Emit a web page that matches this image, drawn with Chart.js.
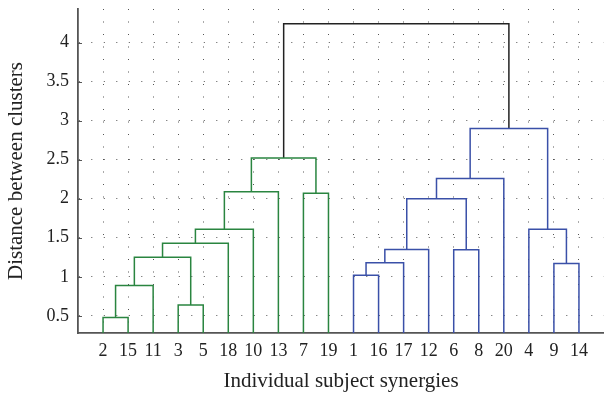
<!DOCTYPE html>
<html><head><meta charset="utf-8">
<script src="https://cdn.jsdelivr.net/npm/chart.js@4"></script>
<style>html,body{margin:0;padding:0;background:#fff}#wrap{width:604px;height:397px;position:relative}</style>
</head><body><div id="wrap"><canvas id="c"></canvas></div>
<script>
// Leaf order along the x axis
const leafLabels = ['2','15','11','3','5','18','10','13','7','19','1','16','17','12','6','8','20','4','9','14'];
// Linkage: merge k creates node 'n' + (k+1)
const mergeLeft   = ['2','n1','3','n2','n4','n5','n6','7','n7','1','n10','n11','6','n12','n14','9','4','n15','n9'];
const mergeRight  = ['15','11','5','n3','18','10','13','19','n8','16','17','12','8','n13','20','14','n16','n17','n18'];
const mergeHeight = [0.48,0.89,0.64,1.25,1.43,1.61,2.09,2.07,2.52,1.02,1.18,1.35,1.345,2.00,2.26,1.17,1.61,2.90,4.24];
const yTicks = [0.5,1,1.5,2,2.5,3,3.5,4];

const clusterColors = ['#2a8540','#3a50a8'];
const aboveColor = '#222222';
const serif = "'Liberation Serif', 'DejaVu Serif', serif";

// positions / heights of nodes
const pos = {}, hgt = {};
leafLabels.forEach((l,i)=>{ pos[l]=i+1; hgt[l]=0; });
mergeHeight.forEach((h,k)=>{
  const id='n'+(k+1);
  pos[id]=(pos[mergeLeft[k]]+pos[mergeRight[k]])/2;
  hgt[id]=h;
});
// colour threshold like MATLAB default (0.7*max)
const thr = 0.7*Math.max(...mergeHeight);
const parent = {};
mergeHeight.forEach((h,k)=>{ parent[mergeLeft[k]]='n'+(k+1); parent[mergeRight[k]]='n'+(k+1); });
const clusterRoots = [];
mergeHeight.forEach((h,k)=>{
  const id='n'+(k+1);
  if(h<thr && (!parent[id] || hgt[parent[id]]>=thr)) clusterRoots.push(id);
});
clusterRoots.sort((a,b)=>pos[a]-pos[b]);
function rootOf(id){ let c=id; while(c && hgt[c]<thr){ if(clusterRoots.includes(c)) return c; c=parent[c]; } return null; }

const datasets = mergeHeight.map((h,k)=>{
  const id='n'+(k+1), L=mergeLeft[k], R=mergeRight[k];
  const r = h<thr ? rootOf(id) : null;
  const col = r ? clusterColors[clusterRoots.indexOf(r)%clusterColors.length] : aboveColor;
  return {
    data:[{x:pos[L],y:hgt[L]},{x:pos[L],y:h},{x:pos[R],y:h},{x:pos[R],y:hgt[R]}],
    borderColor: col, borderWidth: 1.5, showLine: true, pointRadius: 0, tension: 0, fill:false
  };
});

const innerTicks = {
  id:'innerTicks',
  afterDraw(chart){
    const y=chart.scales.y, ctx=chart.ctx, left=chart.chartArea.left;
    ctx.save(); ctx.strokeStyle='#555'; ctx.lineWidth=1;
    yTicks.forEach(v=>{ const p=Math.round(y.getPixelForValue(v))+0.5; ctx.beginPath(); ctx.moveTo(left,p); ctx.lineTo(left+4,p); ctx.stroke(); });
    ctx.restore();
  }
};

new Chart(document.getElementById('c'), {
  type:'scatter',
  data:{datasets},
  plugins:[innerTicks],
  options:{
    responsive:true, maintainAspectRatio:false, animation:false,
    layout:{padding:{top:9,right:0,bottom:0,left:0}},
    plugins:{legend:{display:false}, tooltip:{enabled:false}},
    scales:{
      x:{
        type:'linear', min:0, max:21,
        afterBuildTicks:s=>{ s.ticks = leafLabels.map((_,i)=>({value:i+1})); },
        afterFit:s=>{ s.height=64; },
        ticks:{ callback:v=>leafLabels[v-1]||'', autoSkip:false, maxRotation:0, padding:7, color:'#222', font:{family:serif,size:18} },
        grid:{ color:'#555', lineWidth:1, drawTicks:false },
        border:{ display:true, color:'#555', width:1.8, dash:[1,11.5] },
        title:{ display:true, text:'Individual subject synergies', color:'#222', font:{family:serif,size:21}, padding:{top:0,bottom:3} }
      },
      y:{
        type:'linear', min:0.28, max:4.43,
        afterBuildTicks:s=>{ s.ticks = yTicks.map(v=>({value:v})); },
        afterFit:s=>{ s.width=78; s.paddingTop=9; s.paddingBottom=0; },
        ticks:{ callback:v=>String(v), padding:9, color:'#222', font:{family:serif,size:18} },
        grid:{ color:'#555', lineWidth:1, drawTicks:false },
        border:{ display:true, color:'#555', width:1.8, dash:[1,11.5] },
        title:{ display:true, text:'Distance between clusters', color:'#222', font:{family:serif,size:21}, padding:{top:4,bottom:0} }
      }
    }
  }
});
</script></body></html>
